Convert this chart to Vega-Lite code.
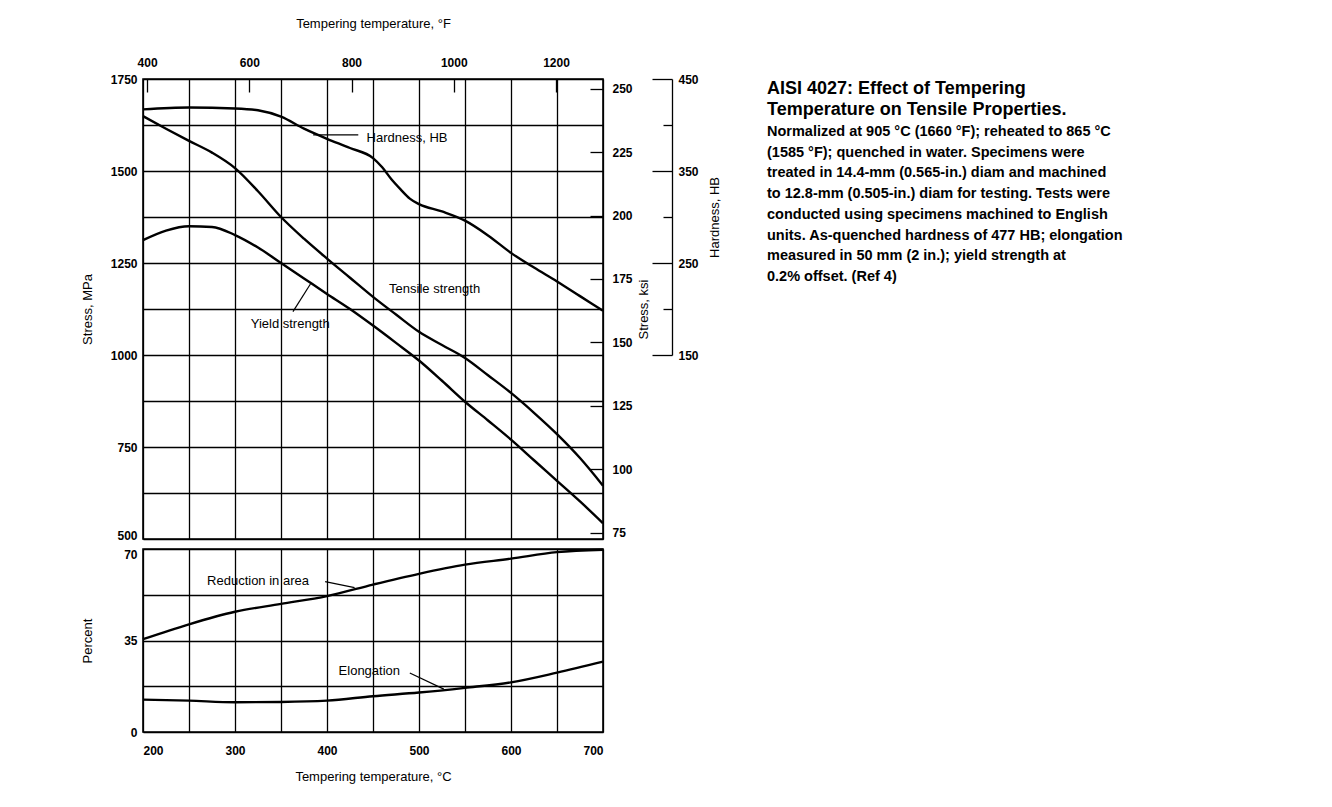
{
  "$schema": "https://vega.github.io/schema/vega-lite/v6.json",
  "background": "white",
  "padding": {"left": 80, "top": 16, "right": 5, "bottom": 5},
  "config": {
    "view": {"stroke": "#000", "strokeWidth": 1.6},
    "font": "Liberation Sans",
    "axis": {
      "labelFont": "Liberation Sans", "labelFontSize": 12, "labelFontWeight": "bold", "labelColor": "#000",
      "titleFont": "Liberation Sans", "titleFontSize": 13, "titleFontWeight": "normal", "titleColor": "#000",
      "gridColor": "#000", "gridWidth": 1.3, "gridOpacity": 1,
      "tickColor": "#000", "tickWidth": 1.3, "domainColor": "#000", "domainWidth": 1.3
    }
  },
  "datasets": {
    "stress": [
      {"temp": 200, "stress": 1649, "series": "Tensile strength"},
      {"temp": 225, "stress": 1615, "series": "Tensile strength"},
      {"temp": 250, "stress": 1582, "series": "Tensile strength"},
      {"temp": 275, "stress": 1550, "series": "Tensile strength"},
      {"temp": 300, "stress": 1508, "series": "Tensile strength"},
      {"temp": 325, "stress": 1445, "series": "Tensile strength"},
      {"temp": 350, "stress": 1375, "series": "Tensile strength"},
      {"temp": 375, "stress": 1316, "series": "Tensile strength"},
      {"temp": 400, "stress": 1262, "series": "Tensile strength"},
      {"temp": 425, "stress": 1210, "series": "Tensile strength"},
      {"temp": 450, "stress": 1158, "series": "Tensile strength"},
      {"temp": 475, "stress": 1110, "series": "Tensile strength"},
      {"temp": 500, "stress": 1063, "series": "Tensile strength"},
      {"temp": 525, "stress": 1027, "series": "Tensile strength"},
      {"temp": 550, "stress": 992, "series": "Tensile strength"},
      {"temp": 575, "stress": 945, "series": "Tensile strength"},
      {"temp": 600, "stress": 897, "series": "Tensile strength"},
      {"temp": 625, "stress": 843, "series": "Tensile strength"},
      {"temp": 650, "stress": 785, "series": "Tensile strength"},
      {"temp": 675, "stress": 720, "series": "Tensile strength"},
      {"temp": 700, "stress": 645, "series": "Tensile strength"},
      {"temp": 200, "stress": 1312, "series": "Yield strength"},
      {"temp": 225, "stress": 1338, "series": "Yield strength"},
      {"temp": 250, "stress": 1350, "series": "Yield strength"},
      {"temp": 275, "stress": 1348, "series": "Yield strength"},
      {"temp": 300, "stress": 1326, "series": "Yield strength"},
      {"temp": 325, "stress": 1292, "series": "Yield strength"},
      {"temp": 350, "stress": 1250, "series": "Yield strength"},
      {"temp": 375, "stress": 1208, "series": "Yield strength"},
      {"temp": 400, "stress": 1166, "series": "Yield strength"},
      {"temp": 425, "stress": 1125, "series": "Yield strength"},
      {"temp": 450, "stress": 1080, "series": "Yield strength"},
      {"temp": 475, "stress": 1033, "series": "Yield strength"},
      {"temp": 500, "stress": 985, "series": "Yield strength"},
      {"temp": 525, "stress": 930, "series": "Yield strength"},
      {"temp": 550, "stress": 873, "series": "Yield strength"},
      {"temp": 575, "stress": 822, "series": "Yield strength"},
      {"temp": 600, "stress": 770, "series": "Yield strength"},
      {"temp": 625, "stress": 714, "series": "Yield strength"},
      {"temp": 650, "stress": 658, "series": "Yield strength"},
      {"temp": 675, "stress": 602, "series": "Yield strength"},
      {"temp": 700, "stress": 543, "series": "Yield strength"}
    ],
    "hardness": [
      {"temp": 200, "hb": 417}, {"temp": 250, "hb": 419}, {"temp": 300, "hb": 418},
      {"temp": 325, "hb": 416}, {"temp": 350, "hb": 409}, {"temp": 375, "hb": 396},
      {"temp": 400, "hb": 385}, {"temp": 425, "hb": 375}, {"temp": 450, "hb": 364},
      {"temp": 460, "hb": 354}, {"temp": 470, "hb": 341}, {"temp": 480, "hb": 330},
      {"temp": 490, "hb": 320}, {"temp": 500, "hb": 314}, {"temp": 525, "hb": 306},
      {"temp": 550, "hb": 296}, {"temp": 575, "hb": 280}, {"temp": 600, "hb": 261},
      {"temp": 625, "hb": 245}, {"temp": 650, "hb": 230}, {"temp": 675, "hb": 214},
      {"temp": 700, "hb": 198}
    ],
    "ductility": [
      {"temp": 200, "pct": 35.5, "series": "Reduction in area"},
      {"temp": 250, "pct": 41.2, "series": "Reduction in area"},
      {"temp": 300, "pct": 46.0, "series": "Reduction in area"},
      {"temp": 350, "pct": 49.0, "series": "Reduction in area"},
      {"temp": 400, "pct": 52.0, "series": "Reduction in area"},
      {"temp": 450, "pct": 56.4, "series": "Reduction in area"},
      {"temp": 500, "pct": 60.5, "series": "Reduction in area"},
      {"temp": 550, "pct": 64.0, "series": "Reduction in area"},
      {"temp": 600, "pct": 66.3, "series": "Reduction in area"},
      {"temp": 650, "pct": 68.8, "series": "Reduction in area"},
      {"temp": 700, "pct": 69.7, "series": "Reduction in area"},
      {"temp": 200, "pct": 12.4, "series": "Elongation"},
      {"temp": 250, "pct": 12.0, "series": "Elongation"},
      {"temp": 300, "pct": 11.4, "series": "Elongation"},
      {"temp": 350, "pct": 11.5, "series": "Elongation"},
      {"temp": 400, "pct": 12.0, "series": "Elongation"},
      {"temp": 450, "pct": 13.7, "series": "Elongation"},
      {"temp": 500, "pct": 15.1, "series": "Elongation"},
      {"temp": 550, "pct": 16.9, "series": "Elongation"},
      {"temp": 600, "pct": 19.0, "series": "Elongation"},
      {"temp": 650, "pct": 22.7, "series": "Elongation"},
      {"temp": 700, "pct": 26.9, "series": "Elongation"}
    ],
    "upperLabels": [
      {"temp": 487, "stress": 1590, "text": "Hardness, HB"},
      {"temp": 517, "stress": 1179, "text": "Tensile strength"},
      {"temp": 360, "stress": 1084, "text": "Yield strength"}
    ],
    "upperLeaders": [
      {"temp": 385, "stress": 1598, "temp2": 434, "stress2": 1598},
      {"temp": 363, "stress": 1118, "temp2": 382, "stress2": 1193}
    ],
    "lowerLabels": [
      {"temp": 325, "pct": 57.7, "text": "Reduction in area"},
      {"temp": 446, "pct": 23.4, "text": "Elongation"}
    ],
    "lowerLeaders": [
      {"temp": 398, "pct": 57.5, "temp2": 430, "pct2": 55.2},
      {"temp": 490, "pct": 22.6, "temp2": 527, "pct2": 16.4}
    ],
    "notes": [
      {"line": 0.48, "col": 0, "kind": "title", "text": "AISI 4027: Effect of Tempering"},
      {"line": 1.52, "col": 0, "kind": "title", "text": "Temperature on Tensile Properties."},
      {"line": 2.56, "col": 0, "kind": "body", "text": "Normalized at 905 °C (1660 °F); reheated to 865 °C"},
      {"line": 3.56, "col": 0, "kind": "body", "text": "(1585 °F); quenched in water. Specimens were"},
      {"line": 4.56, "col": 0, "kind": "body", "text": "treated in 14.4-mm (0.565-in.) diam and machined"},
      {"line": 5.56, "col": 0, "kind": "body", "text": "to 12.8-mm (0.505-in.) diam for testing. Tests were"},
      {"line": 6.56, "col": 0, "kind": "body", "text": "conducted using specimens machined to English"},
      {"line": 7.56, "col": 0, "kind": "body", "text": "units. As-quenched hardness of 477 HB; elongation"},
      {"line": 8.56, "col": 0, "kind": "body", "text": "measured in 50 mm (2 in.); yield strength at"},
      {"line": 9.56, "col": 0, "kind": "body", "text": "0.2% offset. (Ref 4)"}
    ]
  },
  "spacing": 45,
  "hconcat": [
    {
      "spacing": 10,
      "bounds": "flush",
      "vconcat": [
        {
          "width": 460,
          "height": 460,
          "layer": [
            {
              "layer": [
                {
                  "data": {"name": "stress"},
                  "mark": {"type": "line", "color": "#000", "strokeWidth": 2.4, "interpolate": "monotone"},
                  "encoding": {
                    "x": {"field": "temp", "type": "quantitative",
                      "scale": {"domain": [200, 700], "nice": false, "zero": false},
                      "axis": {"orient": "bottom", "values": [200, 250, 300, 350, 400, 450, 500, 550, 600, 650, 700],
                        "labels": false, "ticks": false, "domain": false, "grid": true, "title": null}},
                    "y": {"field": "stress", "type": "quantitative",
                      "scale": {"domain": [500, 1750], "nice": false, "zero": false},
                      "axis": {"orient": "left", "values": [500, 625, 750, 875, 1000, 1125, 1250, 1375, 1500, 1625, 1750],
                        "labelExpr": "datum.value % 250 == 0 ? format(datum.value, 'd') : ''",
                        "labelBaseline": {"condition": {"test": "datum.value == 500", "value": "alphabetic"}, "value": "middle"},
                        "ticks": false, "domain": false, "grid": true, "labelPadding": 6,
                        "title": "Stress, MPa", "titlePadding": 16}},
                    "detail": {"field": "series"}
                  }
                },
                {
                  "data": {"name": "stress"},
                  "mark": {"type": "line", "opacity": 0},
                  "encoding": {
                    "x": {"field": "temp", "type": "quantitative",
                      "scale": {"domain": [200, 700], "nice": false, "zero": false},
                      "axis": {"orient": "top", "values": [204.444, 315.556, 426.667, 537.778, 648.889],
                        "labelExpr": "format(datum.value * 9 / 5 + 32, '.0f')",
                        "tickSize": -13, "labelPadding": 23, "grid": false, "domain": false,
                        "title": "Tempering temperature, °F", "titlePadding": 26}},
                    "y": {"field": "stress", "type": "quantitative",
                      "scale": {"domain": [500, 1750], "nice": false, "zero": false},
                      "axis": {"orient": "right", "values": [517.107, 689.476, 861.845, 1034.214, 1206.582, 1378.951, 1551.320, 1723.689],
                        "labelExpr": "format(datum.value / 6.894757, '.0f')",
                        "tickSize": -13, "labelPadding": 22, "grid": false, "domain": false,
                        "title": "Stress, ksi", "titleAngle": 270, "titlePadding": 18}},
                    "detail": {"field": "series"}
                  }
                },
                {
                  "data": {"name": "upperLabels"},
                  "mark": {"type": "text", "fontSize": 13, "font": "Liberation Sans", "color": "#000", "align": "center", "baseline": "middle"},
                  "encoding": {
                    "x": {"field": "temp", "type": "quantitative", "axis": null},
                    "y": {"field": "stress", "type": "quantitative", "axis": null},
                    "text": {"field": "text"}
                  }
                },
                {
                  "data": {"name": "upperLeaders"},
                  "mark": {"type": "rule", "color": "#000", "strokeWidth": 1.2},
                  "encoding": {
                    "x": {"field": "temp", "type": "quantitative", "axis": null},
                    "y": {"field": "stress", "type": "quantitative", "axis": null},
                    "x2": {"field": "temp2"},
                    "y2": {"field": "stress2"}
                  }
                }
              ],
              "resolve": {"axis": {"x": "independent", "y": "independent"}}
            },
            {
              "data": {"name": "hardness"},
              "mark": {"type": "line", "color": "#000", "strokeWidth": 2.4, "interpolate": "monotone"},
              "encoding": {
                "x": {"field": "temp", "type": "quantitative", "axis": null},
                "y": {"field": "hb", "type": "quantitative",
                  "scale": {"domain": [150, 450], "range": [276, 0], "nice": false, "zero": false},
                  "axis": {"orient": "right", "offset": 69, "values": [150, 200, 250, 300, 350, 400, 450],
                    "labelExpr": "datum.value % 100 == 50 ? datum.label : ''",
                    "tickSize": {"condition": {"test": "datum.value % 100 == 50", "value": -20}, "value": -9},
                    "labelPadding": 26, "grid": false, "domain": true,
                    "title": "Hardness, HB", "titleAngle": 270, "titlePadding": 23}}
              }
            }
          ],
          "resolve": {"scale": {"y": "independent"}}
        },
        {
          "width": 460,
          "height": 183,
          "layer": [
            {
              "data": {"name": "ductility"},
              "mark": {"type": "line", "color": "#000", "strokeWidth": 2.4, "interpolate": "monotone"},
              "encoding": {
                "x": {"field": "temp", "type": "quantitative",
                  "scale": {"domain": [200, 700], "nice": false, "zero": false},
                  "axis": {"orient": "bottom", "values": [200, 250, 300, 350, 400, 450, 500, 550, 600, 650, 700],
                    "labelExpr": "datum.value % 100 == 0 ? format(datum.value, 'd') : ''",
                    "ticks": false, "domain": false, "grid": true, "labelPadding": 13,
                    "title": "Tempering temperature, °C", "titlePadding": 14}},
                "y": {"field": "pct", "type": "quantitative",
                  "scale": {"domain": [0, 70], "nice": false, "zero": false},
                  "axis": {"orient": "left", "values": [0, 17.5, 35, 52.5, 70],
                    "labelExpr": "datum.value % 35 == 0 ? format(datum.value, 'd') : ''",
                    "labelBaseline": {"condition": {"test": "datum.value == 70", "value": "top"}, "value": "middle"},
                    "ticks": false, "domain": false, "grid": true, "labelPadding": 6,
                    "title": "Percent", "titlePadding": 29}},
                "detail": {"field": "series"}
              }
            },
            {
              "data": {"name": "lowerLabels"},
              "mark": {"type": "text", "fontSize": 13, "font": "Liberation Sans", "color": "#000", "align": "center", "baseline": "middle"},
              "encoding": {
                "x": {"field": "temp", "type": "quantitative", "axis": null},
                "y": {"field": "pct", "type": "quantitative", "axis": null},
                "text": {"field": "text"}
              }
            },
            {
              "data": {"name": "lowerLeaders"},
              "mark": {"type": "rule", "color": "#000", "strokeWidth": 1.2},
              "encoding": {
                "x": {"field": "temp", "type": "quantitative", "axis": null},
                "y": {"field": "pct", "type": "quantitative", "axis": null},
                "x2": {"field": "temp2"},
                "y2": {"field": "pct2"}
              }
            }
          ],
          "resolve": {"axis": {"x": "independent", "y": "independent"}}
        }
      ]
    },
    {
      "width": 480,
      "height": 290,
      "view": {"stroke": null},
      "data": {"name": "notes"},
      "layer": [
        {
          "transform": [{"filter": "datum.kind == 'title'"}],
          "mark": {"type": "text", "align": "left", "baseline": "middle", "fontSize": 18, "fontWeight": "bold", "font": "Liberation Sans", "color": "#000"},
          "encoding": {
            "x": {"field": "col", "type": "quantitative", "scale": {"domain": [0, 1]}, "axis": null},
            "y": {"field": "line", "type": "quantitative", "scale": {"domain": [0, 14], "reverse": true}, "axis": null},
            "text": {"field": "text"}
          }
        },
        {
          "transform": [{"filter": "datum.kind == 'body'"}],
          "mark": {"type": "text", "align": "left", "baseline": "middle", "fontSize": 14.5, "fontWeight": "bold", "font": "Liberation Sans", "color": "#000"},
          "encoding": {
            "x": {"field": "col", "type": "quantitative", "scale": {"domain": [0, 1]}, "axis": null},
            "y": {"field": "line", "type": "quantitative", "scale": {"domain": [0, 14], "reverse": true}, "axis": null},
            "text": {"field": "text"}
          }
        }
      ]
    }
  ]
}
